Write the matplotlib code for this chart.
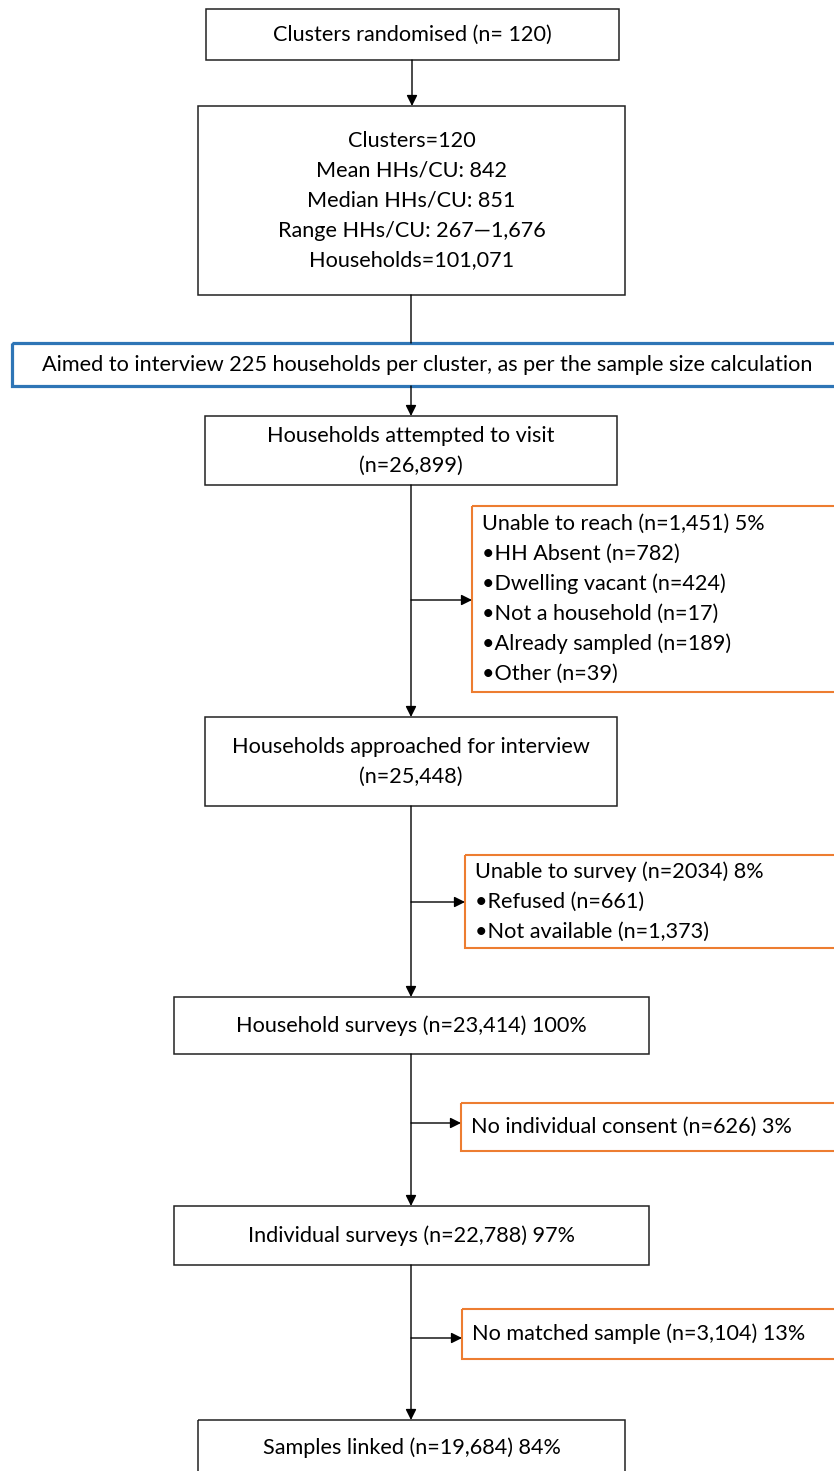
import matplotlib.pyplot as plt
from matplotlib.patches import Rectangle

plt.rcParams['font.family'] = ['Lato', 'DejaVu Sans']

# flowchart text
main_texts = [
    ["Clusters randomised (n= 120)"],
    ["Clusters=120", "Mean HHs/CU: 842", "Median HHs/CU: 851",
     "Range HHs/CU: 267\u20141,676", "Households=101,071"],
    ["Households attempted to visit", "(n=26,899)"],
    ["Households approached for interview", "(n=25,448)"],
    ["Household surveys (n=23,414) 100%"],
    ["Individual surveys (n=22,788) 97%"],
    ["Samples linked (n=19,684) 84%"],
]
aim_text = "Aimed to interview 225 households per cluster, as per the sample size calculation"
excl_texts = [
    ["Unable to reach (n=1,451) 5%", "\u2022HH Absent (n=782)", "\u2022Dwelling vacant (n=424)",
     "\u2022Not a household (n=17)", "\u2022Already sampled (n=189)", "\u2022Other (n=39)"],
    ["Unable to survey (n=2034) 8%", "\u2022Refused (n=661)", "\u2022Not available (n=1,373)"],
    ["No individual consent (n=626) 3%"],
    ["No matched sample (n=3,104) 13%"],
]

# layout in pixels (x0, x1, y0, y1), y measured from the top
main_boxes = [(206, 619, 9, 60), (198, 625, 106, 295), (205, 617, 416, 485),
              (205, 617, 717, 806), (174, 649, 997, 1054), (174, 649, 1206, 1265),
              (198, 625, 1420, 1500)]
aim_box = (12, 845, 343, 386)
excl_boxes = [(472, 845, 506, 692), (465, 845, 855, 948), (461, 845, 1103, 1151),
              (462, 845, 1309, 1359)]
excl_arrow_y = [600, 902, 1123, 1338]
spine_x = 411
fs = 15.6
line_h = 30

fig = plt.figure(figsize=(8.34, 14.71), dpi=100)
ax = fig.add_axes([0, 0, 1, 1])
ax.set_xlim(0, 834)
ax.set_ylim(1471, 0)
ax.axis("off")


def box(b, color, lw):
    x0, x1, y0, y1 = b
    ax.add_patch(Rectangle((x0, y0), x1 - x0, y1 - y0, fill=False, ec=color, lw=lw))


def arrow(x0, y0, x1, y1, head=True):
    ax.annotate("", xy=(x1, y1), xytext=(x0, y0),
                arrowprops=dict(arrowstyle="-|>" if head else "-", color="black", lw=1.0,
                                mutation_scale=16, shrinkA=0, shrinkB=0))


for b, lines in zip(main_boxes, main_texts):
    box(b, "#222222", 1.1)
    x0, x1, y0, y1 = b
    yc = (y0 + y1) / 2 if y1 < 1471 else 1448
    start = yc - line_h * (len(lines) - 1) / 2
    for i, t in enumerate(lines):
        ax.text((x0 + x1) / 2, start + i * line_h, t, ha="center", va="center", fontsize=fs)

box(aim_box, "#2E75B6", 2.3)
ax.text(427, (aim_box[2] + aim_box[3]) / 2, aim_text, ha="center", va="center", fontsize=fs)

for b, lines in zip(excl_boxes, excl_texts):
    box(b, "#ED7D31", 1.5)
    x0, x1, y0, y1 = b
    yc = (y0 + y1) / 2
    start = yc - line_h * (len(lines) - 1) / 2
    for i, t in enumerate(lines):
        ax.text(x0 + 10, start + i * line_h, t, ha="left", va="center", fontsize=fs)

# vertical connectors
arrow(412, 60, 412, 106)
arrow(spine_x, 295, spine_x, 343, head=False)
arrow(spine_x, 386, spine_x, 416)
for top, bottom in zip(main_boxes[2:-1], main_boxes[3:]):
    arrow(spine_x, top[3], spine_x, bottom[2])

# side arrows to exclusion boxes
for b, y in zip(excl_boxes, excl_arrow_y):
    arrow(spine_x, y, b[0], y)

fig.savefig("out.png", dpi=100, facecolor="white")
